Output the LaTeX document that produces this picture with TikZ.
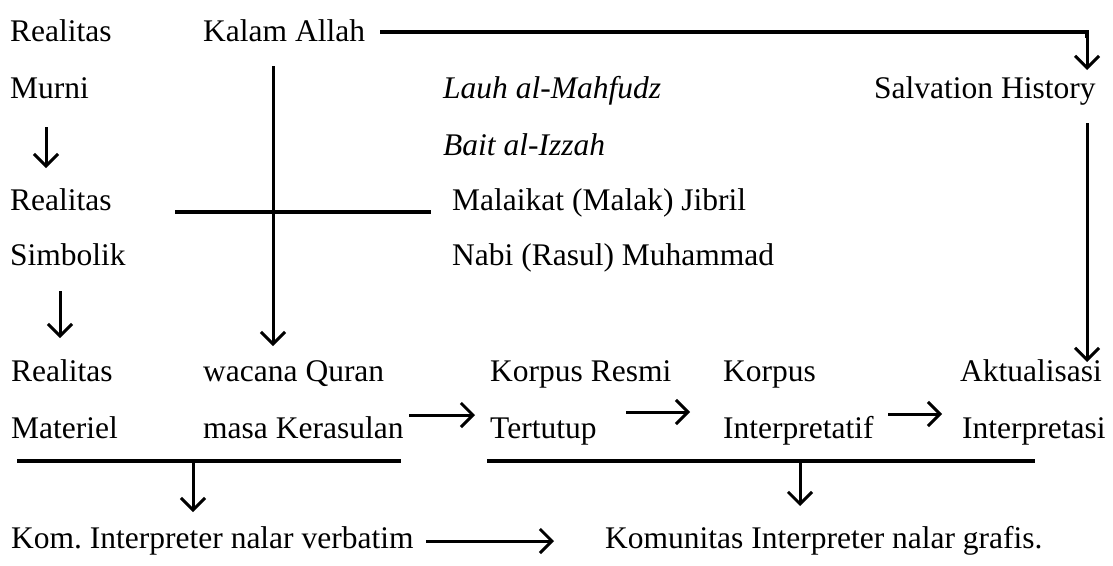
\documentclass[tikz,border=0pt]{standalone}
\usepackage{fontspec}
\setmainfont{Liberation Serif}
\usetikzlibrary{arrows.meta}
\frenchspacing
\begin{document}
\begin{tikzpicture}[x=1pt,y=-1pt,
  lbl/.style={anchor=base west,inner sep=0pt,font=\fontsize{31.5}{37}\selectfont},
  ln/.style={line width=3.2pt},
  arr/.style={line width=3pt,-{Straight Barb[length=12pt,width=24pt,line width=3pt]}}]
\useasboundingbox (0,0) rectangle (1113,565);
% text nodes
\node[lbl] (rm1) at (10,41) {Realitas};
\node[lbl] (kalam) at (203,41) {Kalam Allah};
\node[lbl] (murni) at (10,98) {Murni};
\node[lbl] (lauh) at (443,98) {\itshape Lauh al-Mahfudz};
\node[lbl] (salv) at (874,98) {Salvation History};
\node[lbl] (bait) at (443,155) {\itshape Bait al-Izzah};
\node[lbl] (rs1) at (10,210) {Realitas};
\node[lbl] (malaikat) at (452,210) {Malaikat (Malak) Jibril};
\node[lbl] (simb) at (10,265) {Simbolik};
\node[lbl] (nabi) at (452,265) {Nabi (Rasul) Muhammad};
\node[lbl] (rmat) at (11,381) {Realitas};
\node[lbl] (wacana) at (203,381) {wacana Quran};
\node[lbl] (korpusr) at (490,381) {Korpus Resmi};
\node[lbl] (korpusi) at (723,381) {Korpus};
\node[lbl] (aktual) at (960,381) {Aktualisasi};
\node[lbl] (materiel) at (11,438) {Materiel};
\node[lbl] (masa) at (203,438) {masa Kerasulan};
\node[lbl] (tertutup) at (490,438) {Tertutup};
\node[lbl] (interpretatif) at (723,438) {Interpretatif};
\node[lbl] (interpretasi) at (962,438) {Interpretasi};
\node[lbl] (komv) at (11,548) {Kom. Interpreter nalar verbatim};
\node[lbl] (komg) at (605,548) {Komunitas Interpreter nalar grafis.};
% coordinates
\coordinate (k0) at (380,32);
\coordinate (k1) at (1087,32);
\coordinate (k2) at (1087,70);
\coordinate (v0) at (273,66);
\coordinate (v1) at (273,346);
\coordinate (h0) at (175,212);
\coordinate (h1) at (431,212);
\coordinate (m0) at (46,127);
\coordinate (m1) at (46,168);
\coordinate (s0) at (60,291);
\coordinate (s1) at (60,338);
\coordinate (r0) at (1087,123);
\coordinate (r1) at (1087,362);
\coordinate (a0) at (409,415);
\coordinate (a1) at (475,415);
\coordinate (b0) at (626,412);
\coordinate (b1) at (690,412);
\coordinate (c0) at (888,414);
\coordinate (c1) at (942,414);
\coordinate (u0) at (17,461);
\coordinate (u1) at (401,461);
\coordinate (ud0) at (193,461);
\coordinate (ud1) at (193,512);
\coordinate (w0) at (487,461);
\coordinate (w1) at (1035,461);
\coordinate (wd0) at (800,461);
\coordinate (wd1) at (800,506);
\coordinate (f0) at (426,541);
\coordinate (f1) at (554,541);
% connectors
\draw[ln,line join=miter] (k0) -- (k1) -- ([yshift=-6pt]k1);
\draw[arr] (k1) -- (k2);
\draw[arr] (v0) -- (v1);
\draw[ln] (h0) -- (h1);
\draw[arr] (m0) -- (m1);
\draw[arr] (s0) -- (s1);
\draw[arr] (r0) -- (r1);
\draw[arr] (a0) -- (a1);
\draw[arr] (b0) -- (b1);
\draw[arr] (c0) -- (c1);
\draw[ln] (u0) -- (u1);
\draw[arr] (ud0) -- (ud1);
\draw[ln] (w0) -- (w1);
\draw[arr] (wd0) -- (wd1);
\draw[arr] (f0) -- (f1);
\end{tikzpicture}
\end{document}
